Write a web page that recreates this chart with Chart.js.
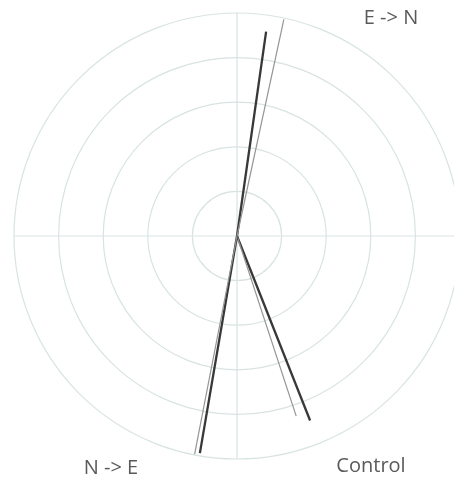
<!DOCTYPE html>
<html>
<head>
<meta charset="utf-8">
<script src="https://cdn.jsdelivr.net/npm/chart.js@4"></script>
<style>
    html, body { margin: 0; padding: 0; background: #fff; }
    #wrap { position: relative; width: 454px; height: 485px; }
</style>
</head>
<body>
<div id="wrap"><canvas id="polarChart" width="454" height="485"></canvas></div>
<script>
// Direções (graus, sentido horário a partir do norte) e comprimentos (em anéis)
const groups = ['E -> N', 'N -> E', 'Control'];
const darkAngles = [8.1, 189.7, 158.4];
const darkLengths = [4.63, 4.94, 4.45];
const lightAngles = [12.2, 191.0, 161.8];
const lightLengths = [4.97, 4.98, 4.25];
const ringTicks = [1, 2, 3, 4, 5];

// Converte direção/comprimento em ponto cartesiano
function toPoint(angle, len) {
    const a = angle * Math.PI / 180;
    return { x: len * Math.sin(a), y: len * Math.cos(a) };
}

const datasets = [];
groups.forEach((g, i) => {
    datasets.push({
        label: g + ' (b)',
        data: [{ x: 0, y: 0 }, toPoint(lightAngles[i], lightLengths[i])],
        borderColor: '#959595',
        borderWidth: 1.2,
        showLine: true,
        pointRadius: 0
    });
    datasets.push({
        label: g,
        data: [{ x: 0, y: 0 }, toPoint(darkAngles[i], darkLengths[i])],
        borderColor: '#383838',
        borderWidth: 2.3,
        showLine: true,
        pointRadius: 0
    });
});

// Desenha os anéis, a cruz e os rótulos
const polarGrid = {
    id: 'polarGrid',
    beforeDatasetsDraw(chart) {
        const { ctx, scales: { x, y } } = chart;
        const cx = x.getPixelForValue(0);
        const cy = y.getPixelForValue(0);
        const unit = (y.getPixelForValue(0) - y.getPixelForValue(1));
        ctx.save();
        ctx.strokeStyle = '#d9e3e3';
        ctx.lineWidth = 1.2;
        ringTicks.forEach(t => {
            ctx.beginPath();
            ctx.arc(cx, cy, t * unit, 0, Math.PI * 2);
            ctx.stroke();
        });
        const rMax = ringTicks[ringTicks.length - 1] * unit;
        ctx.beginPath();
        ctx.moveTo(cx - rMax, cy);
        ctx.lineTo(cx + rMax, cy);
        ctx.moveTo(cx, cy - rMax);
        ctx.lineTo(cx, cy + rMax);
        ctx.stroke();
        ctx.restore();
    },
    afterDraw(chart) {
        const { ctx } = chart;
        const pos = [[391, 18], [111, 468], [371, 466]];
        ctx.save();
        ctx.fillStyle = '#5a5a5a';
        ctx.font = '20px "Open Sans", "Noto Sans", sans-serif';
        ctx.textAlign = 'center';
        ctx.textBaseline = 'middle';
        groups.forEach((g, i) => ctx.fillText(g, pos[i][0], pos[i][1]));
        ctx.restore();
    }
};

new Chart(document.getElementById('polarChart'), {
    type: 'scatter',
    data: { datasets },
    options: {
        responsive: false,
        animation: false,
        layout: { padding: { left: 14, right: 0, top: 13, bottom: 26 } },
        plugins: { legend: { display: false }, tooltip: { enabled: false } },
        scales: {
            x: { type: 'linear', min: -5, max: 4.865, display: false },
            y: { type: 'linear', min: -5, max: 5, display: false }
        }
    },
    plugins: [polarGrid]
});
</script>
</body>
</html>
